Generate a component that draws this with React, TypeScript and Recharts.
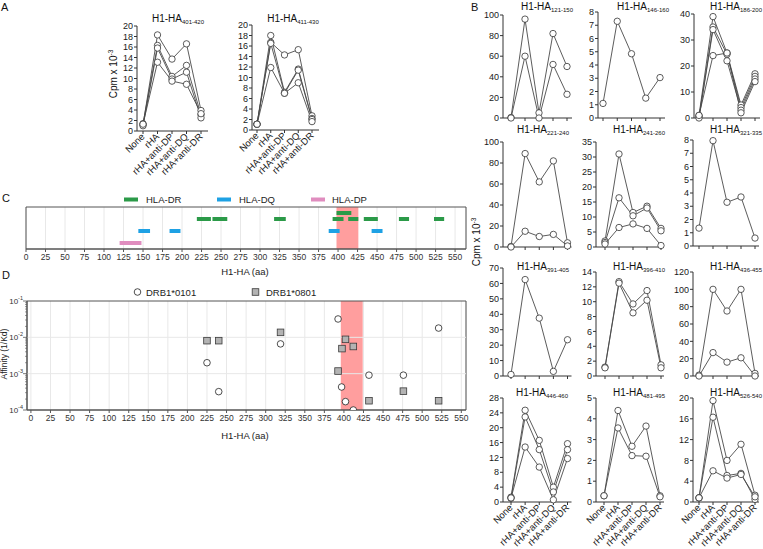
import React from 'react';
import {
  LineChart, Line, XAxis, YAxis, ComposedChart, ScatterChart, Scatter,
  CartesianGrid, ReferenceArea, ReferenceLine,
} from 'recharts';

const FONT = '"Liberation Sans", Arial, sans-serif';

const conditions = ['None', 'rHA', 'rHA+anti-DP', 'rHA+anti-DQ', 'rHA+anti-DR'];

// panel A (cpm x 10^-3), one array per replicate
const ha401 = [
  [1.2, 18.3, 13.7, 16.6, 3.9],
  [1.4, 16.3, 10.4, 12.5, 3.1],
  [1.0, 15.8, 9.9, 11.2, 2.5],
  [1.3, 13.1, 9.5, 8.9, 3.3],
];
const ha411 = [
  [1.1, 16.7, 14.3, 15.3, 2.7],
  [1.1, 18.0, 7.2, 11.6, 2.2],
  [1.1, 16.5, 7.0, 11.4, 2.0],
  [1.1, 11.9, 7.0, 9.0, 1.6],
];

// panel B
const b121 = [[0.5, 96, 5, 82, 50], [0, 60, 0, 52, 23]];
const b146 = [[1.1, 7.3, 4.85, 1.5, 3.05]];
const b186 = [[1, 39, 25, 5, 17], [0.5, 35, 24.5, 4, 16], [0, 34, 22, 3, 15], [1, 24, 25, 2, 14]];
const b221 = [[0.5, 89, 62, 82, 4], [0, 15, 10, 12, 1]];
const b241 = [[2, 31, 11.5, 13.6, 6.2], [1.5, 16.4, 10.4, 13, 5.4], [1, 6.5, 7.7, 6.2, 0.5]];
const b321 = [[1.35, 7.95, 3.3, 3.7, 0.6]];
const b391 = [[1, 62.5, 37.5, 3, 23.5]];
const b396 = [[1.2, 12.7, 9.7, 11.5, 1.5], [1.1, 12.5, 8.5, 10.2, 1.1]];
const b436 = [[1, 100, 75, 100, 3], [0, 27, 16, 21, 0]];
const b446 = [[1.3, 24.7, 16.6, 4, 15.7], [1.0, 22.9, 14.1, 2.7, 14.1], [1.1, 14.8, 9.4, 0.6, 11.7]];
const b481 = [[0.3, 4.4, 2.68, 3.65, 0.3], [0.3, 3.56, 2.23, 2.2, 0.25]];
const b526 = [[0.8, 19.5, 8, 11.1, 1.3], [0.8, 16.3, 5.1, 5.5, 0.5], [0.8, 6, 4.6, 5.3, 1.0]];

// panel C: epitope spans (aa) per restriction, row = track
const drTopSpans = [[398, 417]];
const drSpans = [[219, 237], [239, 258], [318, 333], [393, 407], [413, 426], [433, 451], [478, 491], [523, 536]];
const dqSpans = [[144, 159], [184, 198], [388, 402], [443, 457]];
const dpSpans = [[120, 148]];
const aaTicks = [0, 25, 50, 75, 100, 125, 150, 175, 200, 225, 250, 275, 300, 325, 350, 375, 400, 425, 450, 475, 500, 525, 550];

// panel D: binding affinity (1/Kd)
const drb0101Pos = [225, 240, 319, 392.5, 397, 402, 412, 432, 476, 521];
const drb0101Kd = [2.0e-3, 3.2e-4, 6.6e-3, 3.2e-2, 4.3e-4, 1.7e-4, 1.0e-4, 9.1e-4, 9.1e-4, 1.8e-2];
const drb0801Pos = [225, 240, 319, 392.5, 397.5, 402, 412, 432, 476, 521];
const drb0801Kd = [8.1e-3, 8.1e-3, 1.37e-2, 1.18e-3, 4.9e-3, 8.8e-3, 5.6e-3, 1.8e-4, 3.3e-4, 1.8e-4];
const decades = [1e-4, 1e-3, 1e-2, 1e-1];
const minorMult = [2, 3, 4, 5, 6, 7, 8, 9];

const range = (max: number, step: number) =>
  Array.from({ length: Math.round(max / step) + 1 }, (_, i) => +(i * step).toFixed(4));

const GREEN = '#2b9a48';
const BLUE = '#1ea1e4';
const PINK = '#e08dbf';
const BAND = '#ff9e9e';

const RotTick = (props: any) => {
  const { x, y, payload } = props;
  return (
    <text x={x} y={y} transform={`rotate(-45 ${x} ${y})`} textAnchor="end" fontSize={9.5} fill="#1a1a1a" dy={3.2}>
      {payload.value}
    </text>
  );
};

type Cfg = {
  sub: string; series: number[][]; ticks: number[];
  axisX: number; xEnd: number; padL: number; padR: number;
  top: number; bottom: number; tx: number; ty: number; labels?: boolean;
};

function SmallChart({ c }: { c: Cfg }) {
  const rows = conditions.map((cond, i) => {
    const r: Record<string, any> = { cond };
    c.series.forEach((s, k) => { r['s' + k] = s[i]; });
    return r;
  });
  const yW = 28, mt = 6, mr = 2;
  const xh = c.labels ? 46 : 6;
  const w = yW + (c.xEnd - c.axisX) + mr;
  const h = mt + (c.bottom - c.top) + xh;
  const yMax = c.ticks[c.ticks.length - 1];
  return (
    <div style={{ position: 'absolute', left: c.axisX - yW, top: c.top - mt }}>
      <LineChart width={w} height={h} data={rows} margin={{ top: mt, right: mr, left: 0, bottom: 0 }} style={{ overflow: 'visible' }}>
        <XAxis
          dataKey="cond" interval={0} padding={{ left: c.padL, right: c.padR }} height={xh}
          tickSize={3} tickMargin={1}
          tick={c.labels ? (p: any) => <RotTick {...p} /> : () => <g />}
          axisLine={{ stroke: '#333' }} tickLine={{ stroke: '#333' }}
        />
        <YAxis
          width={yW} type="number" domain={[0, yMax]} ticks={c.ticks} interval={0}
          tickSize={3} tickMargin={1} tick={{ fontSize: 9, fill: '#1a1a1a' }}
          axisLine={{ stroke: '#333' }} tickLine={{ stroke: '#333' }}
        />
        {c.series.map((_, k) => (
          <Line
            key={k} dataKey={'s' + k} stroke="#4a4a4a" strokeWidth={0.9}
            dot={{ r: 3.2, fill: '#fff', stroke: '#333', strokeWidth: 0.8 }}
            isAnimationActive={false}
          />
        ))}
      </LineChart>
    </div>
  );
}

const LogTick = (props: any) => {
  const { x, y, payload } = props;
  const v = payload.value as number;
  const e = Math.round(Math.log10(v));
  const major = Math.abs(v / Math.pow(10, e) - 1) < 1e-6;
  if (!major) return <line x1={x - 2} x2={x} y1={y} y2={y} stroke="#555" strokeWidth={0.6} />;
  return (
    <g>
      <line x1={x - 4} x2={x} y1={y} y2={y} stroke="#555" strokeWidth={0.8} />
      <text x={x - 4} y={y} dy={3} textAnchor="end" fontSize={8} fill="#333">
        10<tspan dy={-4} fontSize={5.5}>{String(e)}</tspan>
      </text>
    </g>
  );
};

const spanLines = (spans: number[][], row: number, color: string, key: string) =>
  spans.map((s, i) => (
    <Line
      key={key + i} data={[{ x: s[0], y: row }, { x: s[1], y: row }]} dataKey="y"
      stroke={color} strokeWidth={4} dot={false} isAnimationActive={false}
    />
  ));

export default function App() {
  const charts: Cfg[] = [
    { sub: '401-420', series: ha401, ticks: range(20, 2), axisX: 137, xEnd: 208, padL: 6, padR: 7, top: 26, bottom: 131, tx: 178, ty: 18, labels: true },
    { sub: '411-430', series: ha411, ticks: range(20, 2), axisX: 252, xEnd: 319, padL: 5, padR: 7, top: 25, bottom: 130, tx: 293, ty: 18, labels: true },
    { sub: '121-150', series: b121, ticks: range(100, 20), axisX: 503, xEnd: 572, padL: 8, padR: 5, top: 15, bottom: 118, tx: 547, ty: 6 },
    { sub: '146-160', series: b146, ticks: range(8, 1), axisX: 598, xEnd: 665, padL: 5, padR: 5, top: 12, bottom: 118, tx: 643, ty: 6 },
    { sub: '186-200', series: b186, ticks: range(40, 10), axisX: 694, xEnd: 760, padL: 5, padR: 5, top: 14, bottom: 118, tx: 736, ty: 6 },
    { sub: '221-240', series: b221, ticks: range(100, 20), axisX: 502.5, xEnd: 571, padL: 8, padR: 4, top: 142, bottom: 247, tx: 543, ty: 129 },
    { sub: '241-260', series: b241, ticks: range(35, 5), axisX: 596, xEnd: 664, padL: 9, padR: 3, top: 142, bottom: 247, tx: 639, ty: 129 },
    { sub: '321-335', series: b321, ticks: range(8, 1), axisX: 693, xEnd: 759, padL: 6, padR: 4, top: 140, bottom: 246, tx: 736, ty: 129 },
    { sub: '391-405', series: b391, ticks: range(70, 10), axisX: 502.5, xEnd: 571, padL: 8, padR: 4, top: 268, bottom: 376, tx: 543, ty: 266 },
    { sub: '396-410', series: b396, ticks: range(14, 2), axisX: 596, xEnd: 664, padL: 9, padR: 3, top: 272, bottom: 376, tx: 639, ty: 266 },
    { sub: '436-455', series: b436, ticks: range(120, 20), axisX: 693, xEnd: 759, padL: 6, padR: 4, top: 272, bottom: 376, tx: 736, ty: 266 },
    { sub: '446-460', series: b446, ticks: range(28, 4), axisX: 502.5, xEnd: 571, padL: 8, padR: 4, top: 398, bottom: 502, tx: 542, ty: 392, labels: true },
    { sub: '481-495', series: b481, ticks: range(5, 1), axisX: 596, xEnd: 664, padL: 8, padR: 4, top: 398, bottom: 502, tx: 639, ty: 392, labels: true },
    { sub: '526-540', series: b526, ticks: range(20, 4), axisX: 693, xEnd: 759, padL: 6, padR: 4, top: 398, bottom: 502, tx: 736, ty: 392, labels: true },
  ];

  const drb0101 = drb0101Pos.map((aa, i) => ({ aa, kd: drb0101Kd[i] }));
  const drb0801 = drb0801Pos.map((aa, i) => ({ aa, kd: drb0801Kd[i] }));
  const logTicks = [
    ...decades,
    ...decades.slice(0, 3).flatMap((d) => minorMult.map((m) => +(d * m).toPrecision(3))),
  ];

  return (
    <div style={{ position: 'relative', width: 763, height: 549, background: '#fff', overflow: 'hidden', fontFamily: FONT, color: '#111' }}>
      <style>{'body{margin:0}'}</style>

      {charts.map((c) => <SmallChart key={c.sub} c={c} />)}

      {/* C: epitope map */}
      <div style={{ position: 'absolute', left: 17.7, top: 205 }}>
        <ComposedChart width={452} height={64} margin={{ top: 2, right: 4, left: 8, bottom: 0 }}>
          <CartesianGrid horizontal={false} stroke="#e8e8e8" />
          <XAxis
            type="number" dataKey="x" domain={[0, 564]} ticks={aaTicks} interval={0} height={20}
            tickSize={3} tickMargin={2} tick={{ fontSize: 8.5, fill: '#333' }}
            axisLine={{ stroke: '#555' }} tickLine={{ stroke: '#555' }}
          />
          <YAxis type="number" domain={[0, 7]} hide />
          <ReferenceArea x1={398} x2={426} fill={BAND} fillOpacity={1} stroke="none" />
          {spanLines(drTopSpans, 6, GREEN, 'drt')}
          {spanLines(drSpans, 5, GREEN, 'dr')}
          {spanLines(dqSpans, 3, BLUE, 'dq')}
          {spanLines(dpSpans, 1, PINK, 'dp')}
          <ReferenceArea x1={0} x2={564} y1={0} y2={7} fill="none" stroke="#555" strokeWidth={1} />
        </ComposedChart>
      </div>

      {/* D: affinity */}
      <div style={{ position: 'absolute', left: 1.3, top: 293 }}>
        <ScatterChart width={470} height={139} margin={{ top: 8, right: 5, left: 0, bottom: 0 }}>
          <CartesianGrid horizontal={false} stroke="#e8e8e8" />
          <XAxis
            type="number" dataKey="aa" domain={[-5, 556]} ticks={aaTicks} interval={0} height={22}
            tickSize={3} tickMargin={2} tick={{ fontSize: 8.5, fill: '#333' }}
            axisLine={{ stroke: '#555' }} tickLine={{ stroke: '#555' }}
          />
          <YAxis
            type="number" dataKey="kd" scale="log" domain={[1e-4, 1e-1]} allowDataOverflow
            ticks={logTicks} interval={0} width={26} tickSize={0} tickMargin={0} tickLine={false}
            tick={(p: any) => <LogTick {...p} />} axisLine={{ stroke: '#555' }}
          />
          <ReferenceLine y={1e-3} stroke="#e8e8e8" />
          <ReferenceLine y={1e-2} stroke="#e8e8e8" />
          <ReferenceArea x1={396} x2={424} fill={BAND} fillOpacity={1} stroke="none" />
          <Scatter
            data={drb0801} isAnimationActive={false}
            shape={(p: any) => <rect x={p.cx - 3.3} y={p.cy - 3.3} width={6.6} height={6.6} fill="#b3b3b3" stroke="#3a3a3a" strokeWidth={0.8} />}
          />
          <Scatter
            data={drb0101} isAnimationActive={false}
            shape={(p: any) => <circle cx={p.cx} cy={p.cy} r={3.3} fill="#fff" stroke="#222" strokeWidth={0.8} />}
          />
          <ReferenceArea x1={-5} x2={556} y1={1e-4} y2={1e-1} fill="none" stroke="#555" strokeWidth={1} />
        </ScatterChart>
      </div>

      {/* overlay text */}
      <svg width={763} height={549} style={{ position: 'absolute', left: 0, top: 0, pointerEvents: 'none' }}>
        <g fill="#111">
          <text x={1} y={11} fontSize={11}>A</text>
          <text x={471} y={11} fontSize={11}>B</text>
          <text x={2} y={202} fontSize={11}>C</text>
          <text x={2} y={279} fontSize={11}>D</text>
        </g>
        {charts.map((c) => (
          <text key={'t' + c.sub} x={c.tx} y={c.ty + 3.5} textAnchor="middle" fontSize={10} fill="#111">
            H1-HA<tspan fontSize={6} dy={2.5}>{c.sub}</tspan>
          </text>
        ))}
        <text x={113.5} y={77.5} transform="rotate(-90 113.5 74)" textAnchor="middle" fontSize={10} fill="#111">
          Cpm x 10<tspan dy={-4} fontSize={6.5}>-3</tspan>
        </text>
        <text x={476.5} y={245.5} transform="rotate(-90 476.5 242)" textAnchor="middle" fontSize={10} fill="#111">
          Cpm x 10<tspan dy={-4} fontSize={6.5}>-3</tspan>
        </text>

        {/* C legend */}
        <rect x={124} y={197.5} width={14} height={4} fill={GREEN} />
        <text x={146} y={203} fontSize={9.5} fill="#222">HLA-DR</text>
        <rect x={217} y={197.5} width={14} height={4} fill={BLUE} />
        <text x={239} y={203} fontSize={9.5} fill="#222">HLA-DQ</text>
        <rect x={311} y={197.5} width={14} height={4} fill={PINK} />
        <text x={332} y={203} fontSize={9.5} fill="#222">HLA-DP</text>
        <text x={245} y={275} textAnchor="middle" fontSize={9.5} fill="#222">H1-HA (aa)</text>

        {/* D legend */}
        <circle cx={137.5} cy={292} r={3.3} fill="#fff" stroke="#222" strokeWidth={0.8} />
        <text x={146} y={295.5} fontSize={9.5} fill="#222">DRB1*0101</text>
        <rect x={252.2} y={288.7} width={6.6} height={6.6} fill="#b3b3b3" stroke="#3a3a3a" strokeWidth={0.8} />
        <text x={266} y={295.5} fontSize={9.5} fill="#222">DRB1*0801</text>
        <text x={245} y={439} textAnchor="middle" fontSize={9.5} fill="#222">H1-HA (aa)</text>
        <text x={4} y={357} transform="rotate(-90 4 354)" textAnchor="middle" fontSize={8.5} fill="#222">Affinity (1/Kd)</text>
      </svg>
    </div>
  );
}
